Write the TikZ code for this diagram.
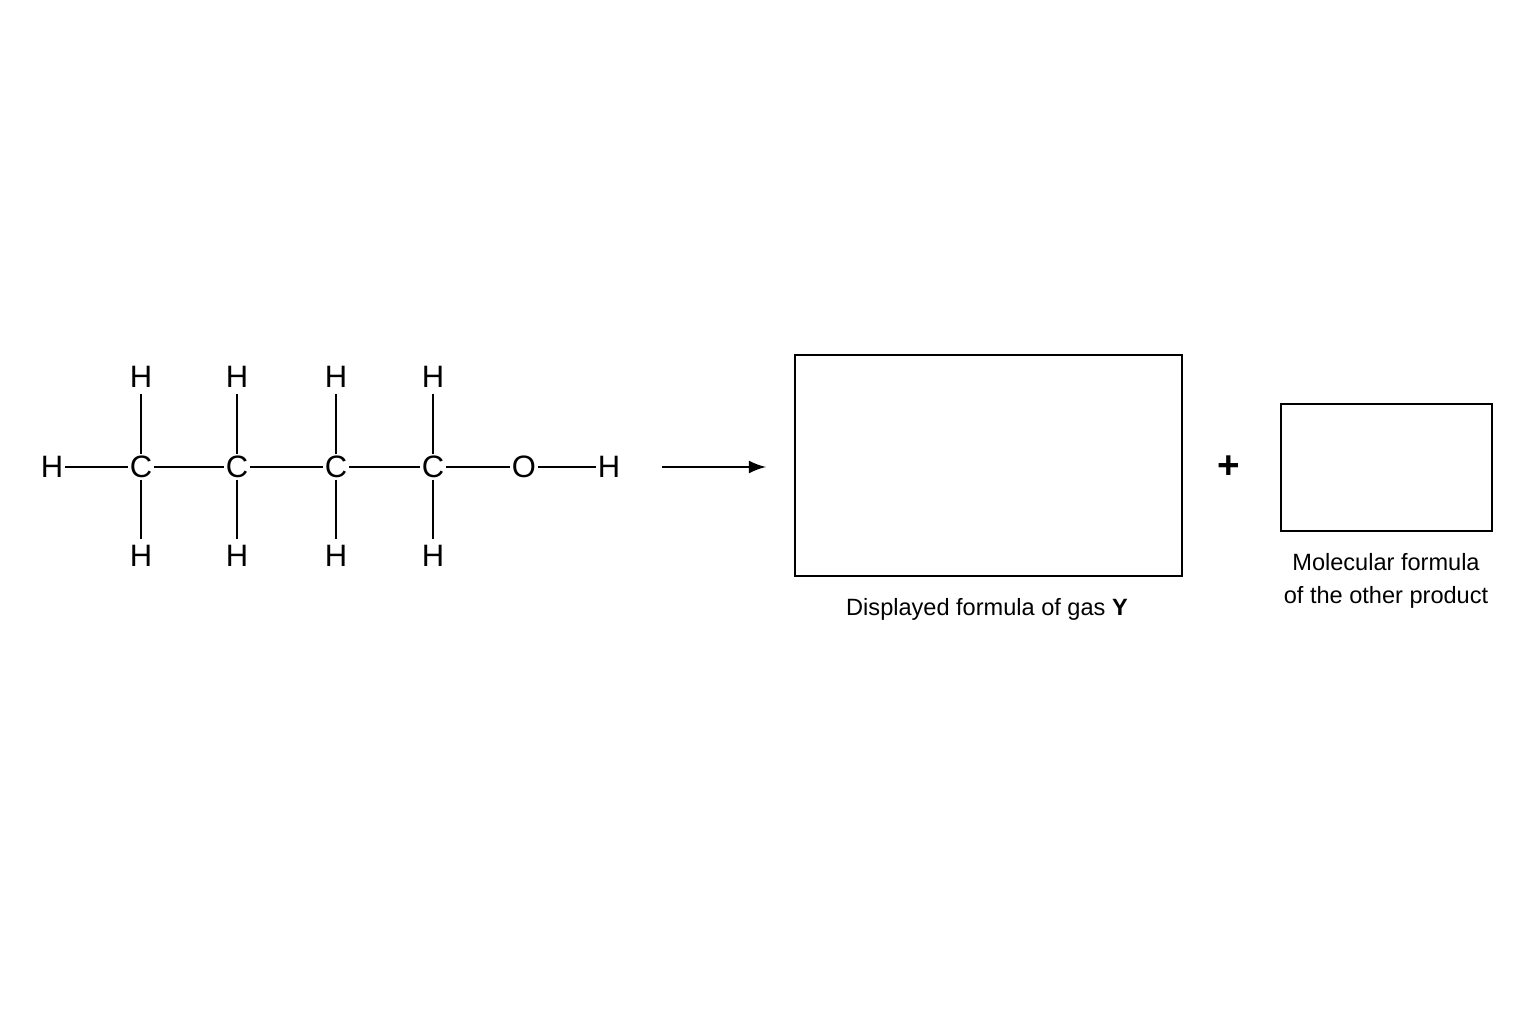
\documentclass[tikz,border=0pt]{standalone}
\usepackage{fontspec}
\setmainfont{Liberation Sans}
\usetikzlibrary{positioning}
\begin{document}
\begin{tikzpicture}[x=0.01cm,y=-0.01cm,>=latex,
      atom/.style={font=\fontsize{8.8}{10}\selectfont,inner sep=0.3pt},
      bond/.style={line width=0.6pt},
      answer box/.style={draw,line width=0.7pt},
      caption/.style={font=\fontsize{6.7}{9.6}\selectfont,align=center}]
    \useasboundingbox (0,0) rectangle (1536,1024);
    \node[atom] (hl) at (52,467) {H};
    \foreach \i/\x in {1/141,2/237,3/336,4/433} {
      \node[atom] (c\i) at (\x,467) {C};
      \node[atom,inner sep=1.5pt] (ht\i) at (\x,377) {H};
      \node[atom,inner sep=1.5pt] (hb\i) at (\x,556) {H};
      \draw[bond] (c\i) -- (ht\i);
      \draw[bond] (c\i) -- (hb\i);
    }
    \node[atom] (o) at (524,467) {O};
    \node[atom] (hr) at (609,467) {H};
    \draw[bond] (hl) -- (c1) -- (c2) -- (c3) -- (c4) -- (o) -- (hr);
    \coordinate (arrS) at (662,467);
    \coordinate (arrE) at (766,467);
    \draw[->,line width=0.7pt] (arrS) -- (arrE);
    \draw[answer box] (795,355) rectangle (1182,576);
    \node[caption] (capY) at (987,609) {Displayed formula of gas \textbf{Y}};
    \node[atom,font=\fontsize{11}{12}\selectfont] (plus) at (1229,467) {\textbf{+}};
    \draw[answer box] (1281,404) rectangle (1492,531);
    \node[caption] (capO) at (1386,581) {Molecular formula\\of the other product};
\end{tikzpicture}
\end{document}
